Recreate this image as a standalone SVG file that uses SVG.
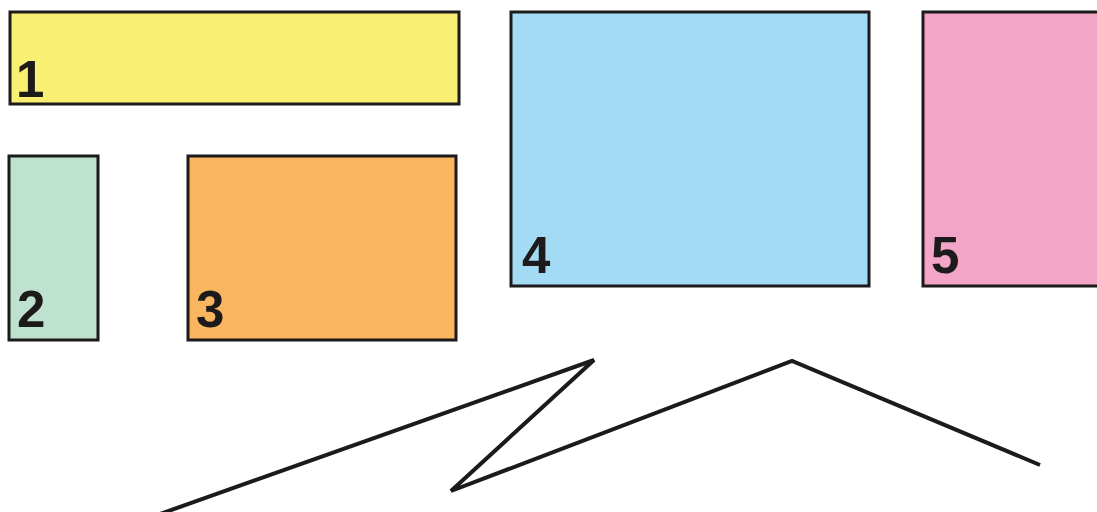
<svg xmlns="http://www.w3.org/2000/svg" width="1097" height="512" viewBox="0 0 1097 512">
<style>
.box{stroke:#1c1a1a;stroke-width:3}
.lbl{font-family:"Liberation Sans",Arial,sans-serif;font-weight:bold;font-size:51px;fill:#1c1a1a}
.conn{fill:none;stroke:#1c1a1a;stroke-width:4;stroke-linejoin:miter}
</style>
<rect width="1097" height="512" fill="#ffffff"/>
<g id="node1"><rect class="box" x="10" y="12" width="449" height="92" fill="#f9ef72"/><text class="lbl" x="16" y="97">1</text></g>
<g id="node2"><rect class="box" x="9" y="156" width="89" height="184" fill="#bfe2d0"/><text class="lbl" x="17" y="327">2</text></g>
<g id="node3"><rect class="box" x="188" y="156" width="268" height="184" fill="#f9b55f"/><text class="lbl" x="196" y="327">3</text></g>
<g id="node4"><rect class="box" x="511" y="12" width="358" height="274" fill="#a3dbf4"/><text class="lbl" x="522" y="273">4</text></g>
<g id="node5"><rect class="box" x="923" y="12" width="180" height="274" fill="#f2a5c6"/><text class="lbl" x="931" y="273">5</text></g>
<g id="connectors"><polyline class="conn" points="160,514 594,360 451,491 792,361 1040,465"/></g>
</svg>
